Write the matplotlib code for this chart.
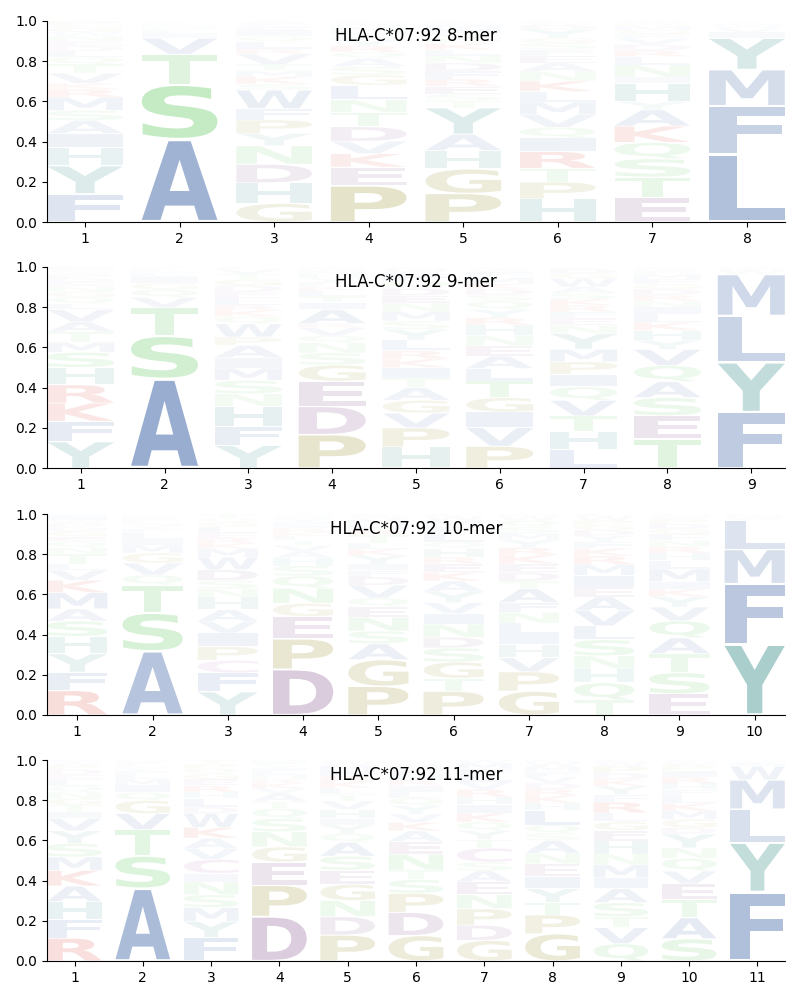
import matplotlib
matplotlib.use("Agg")
import matplotlib.pyplot as plt
from matplotlib.textpath import TextPath
from matplotlib.patches import PathPatch
from matplotlib.font_manager import FontProperties
from matplotlib.transforms import Affine2D

allele = "HLA-C*07:92"

# letters per position, listed bottom -> top, with their heights
letters_8 = ["FYHIASMRKVTQLDENWGCP", "ASTVILQMFY", "GHDNYPFWSKMTVRLQIECA",
             "PEKVDTNLGSAQRYFHMWIC", "PGHAYTSERFDNLKQVIMWC", "HPTRIQVMLKNAEFSGYDWC",
             "ETSQKAYHINLRDVFGMPWC", "LFMYIVWATS"]
heights_8 = [
    [.14, .14, .09, .07, .065, .05, .065, .04, .03, .05, .045, .035, .03, .025, .025, .025, .02, .02, .015, .02],
    [.41, .27, .15, .08, .02, .02, .015, .01, .01, .01],
    [.09, .10, .09, .09, .06, .065, .055, .09, .03, .035, .03, .03, .05, .025, .035, .025, .025, .02, .015, .015],
    [.175, .09, .065, .06, .07, .07, .06, .07, .05, .04, .04, .03, .03, .03, .02, .02, .02, .01, .01, .01],
    [.14, .12, .09, .08, .13, .035, .03, .04, .035, .04, .04, .035, .03, .03, .025, .025, .02, .02, .01, .01],
    [.11, .08, .065, .08, .065, .05, .06, .06, .05, .05, .045, .04, .035, .03, .03, .025, .04, .02, .01, .01],
    [.12, .1, .09, .08, .08, .08, .04, .09, .03, .06, .04, .03, .03, .03, .02, .02, .02, .01, .01, .005],
    [.335, .24, .18, .155, .03, .02, .015, .01, .005, .005],
]

letters_9 = ["YFKRHSMTAVLQGNEDPWCI", "ASTVQGILMFY", "YFHNSMIAPWQKRLEDGTVC",
             "PDEGSNQVRAITLKFYHMWC", "HPVGATIKRLYSMNEDQFWC", "PVIGTLAENHRYQSDKMFWC",
             "LHTVQIPMYNEFRKSAWGDC", "TESAQVYHKLINRDGFMPWC", "FYLMWIV"]
heights_9 = [
    [.13, .1, .09, .09, .085, .075, .05, .05, .05, .06, .03, .03, .03, .025, .02, .02, .02, .01, .01, .015],
    [.44, .21, .14, .05, .04, .03, .03, .02, .01, .01, .01],
    [.11, .09, .1, .06, .065, .06, .05, .06, .04, .065, .035, .03, .025, .035, .03, .03, .03, .025, .025, .01],
    [.165, .14, .125, .08, .06, .05, .035, .04, .02, .07, .035, .03, .03, .02, .02, .02, .02, .015, .01, .01],
    [.1, .09, .07, .06, .06, .045, .05, .04, .04, .05, .05, .04, .045, .04, .035, .035, .035, .035, .02, .01],
    [.105, .09, .075, .07, .08, .06, .06, .05, .05, .05, .035, .04, .04, .03, .03, .025, .03, .025, .015, .01],
    [.09, .085, .075, .075, .065, .06, .06, .06, .075, .04, .035, .03, .03, .03, .03, .03, .04, .025, .02, .01],
    [.145, .115, .09, .08, .08, .08, .045, .05, .04, .04, .035, .03, .03, .03, .025, .025, .025, .015, .01, .01],
    [.27, .24, .225, .2, .02, .01, .005],
]

letters_10 = ["RFYHSAMKVLTNQEGDPWIC", "ASTQVGMILFYNEDKRHP", "YFCPIVAHNSDWMKRELGQT",
              "DPEGNQSHAVTLKRIFYMWC", "PGASNEQVDFIYKLTRHMWC", "PTGSDNIVYAKERHQLFMWC",
              "GPVHILNFATDEKRYMSQWC", "TQHNSLVAEIMRKFYDGPWC", "ESTAQVYKIMLHRNFGDPWC",
              "YFMLWIV"]
heights_10 = [
    [.12, .09, .09, .085, .075, .06, .08, .06, .05, .03, .05, .03, .03, .025, .025, .02, .02, .015, .02, .01],
    [.32, .19, .14, .05, .06, .05, .04, .03, .03, .02, .015, .015, .01, .01, .01, .005, .005, .005],
    [.11, .09, .06, .065, .065, .055, .055, .06, .04, .04, .05, .06, .04, .025, .025, .025, .03, .02, .02, .02],
    [.225, .15, .11, .065, .075, .06, .05, .04, .03, .03, .025, .02, .02, .02, .015, .015, .015, .01, .01, .005],
    [.135, .125, .075, .06, .065, .05, .04, .06, .04, .03, .03, .04, .03, .03, .035, .025, .025, .025, .015, .01],
    [.11, .06, .075, .065, .05, .06, .05, .05, .05, .05, .04, .04, .03, .04, .03, .04, .03, .03, .02, .01],
    [.11, .09, .065, .06, .05, .05, .05, .045, .065, .035, .04, .04, .04, .035, .035, .03, .03, .03, .02, .01],
    [.07, .08, .065, .06, .075, .065, .07, .065, .045, .055, .05, .04, .035, .03, .03, .025, .025, .02, .02, .01],
    [.1, .1, .09, .075, .08, .065, .05, .035, .035, .06, .04, .035, .03, .03, .03, .025, .025, .02, .015, .01],
    [.34, .29, .165, .14, .015, .01, .005],
]

letters_11 = ["RFHAKMSYVITGNQLEDPWC", "ASTVGQIMLFYNEKD", "FYMSNICVAKWDLHREGQPT",
              "DPEGNSQTAVKRHLIYFM", "PDNGESAQYIHVTLKRFMWC", "GDPSTNEAKVYQLIRHFMWC",
              "GDPNEASCTYQKIHRVLFMW", "GPTYIENASQLHKRDVFMWC", "QVTSAIMNHEGLRFYKDPWC",
              "SATEVQNYDGMKLFHRIPWC", "FYLMWIVT"]
heights_11 = [
    [.11, .09, .085, .075, .075, .065, .065, .06, .06, .03, .035, .03, .03, .03, .03, .025, .025, .02, .015, .01],
    [.36, .16, .13, .08, .065, .04, .035, .03, .025, .015, .015, .01, .01, .01, .01],
    [.11, .075, .065, .06, .06, .04, .065, .05, .05, .05, .065, .03, .04, .03, .03, .03, .025, .025, .02, .02],
    [.22, .155, .115, .075, .075, .065, .05, .035, .04, .025, .025, .02, .02, .02, .015, .015, .015, .01],
    [.12, .085, .075, .075, .065, .065, .065, .04, .04, .03, .04, .04, .03, .03, .03, .025, .025, .025, .015, .01],
    [.12, .11, .09, .065, .045, .075, .06, .05, .04, .04, .04, .035, .03, .03, .025, .025, .025, .02, .015, .01],
    [.095, .07, .075, .065, .06, .05, .04, .065, .04, .04, .04, .04, .04, .035, .035, .035, .03, .03, .025, .015],
    [.13, .09, .06, .065, .06, .06, .05, .06, .035, .04, .07, .035, .035, .03, .03, .03, .025, .025, .02, .01],
    [.08, .075, .05, .065, .065, .05, .06, .05, .06, .05, .04, .04, .05, .035, .04, .03, .03, .03, .02, .01],
    [.105, .1, .085, .075, .06, .06, .05, .065, .03, .04, .04, .035, .035, .03, .03, .03, .03, .025, .015, .01],
    [.33, .235, .16, .14, .065, .015, .01, .005],
]

panels = [("8-mer", letters_8, heights_8), ("9-mer", letters_9, heights_9),
          ("10-mer", letters_10, heights_10), ("11-mer", letters_11, heights_11)]

# amino acid colour groups
blue = (140/255, 163/255, 202/255)
teal = (133/255, 186/255, 183/255)
green = (149/255, 218/255, 149/255)
purple = (177/255, 144/255, 182/255)
red = (230/255, 120/255, 110/255)
olive = (184/255, 178/255, 109/255)
pink = (200/255, 150/255, 200/255)
aa_colors = {}
for aa in "AVLIMFW":
    aa_colors[aa] = blue
for aa in "YH":
    aa_colors[aa] = teal
for aa in "STNQ":
    aa_colors[aa] = green
for aa in "DE":
    aa_colors[aa] = purple
for aa in "KR":
    aa_colors[aa] = red
for aa in "PG":
    aa_colors[aa] = olive
aa_colors["C"] = pink

font = FontProperties(family="DejaVu Sans", weight="bold")
glyphs = {}


def draw_letter(ax, ch, x, y, w, h, color, alpha):
    if ch not in glyphs:
        glyphs[ch] = TextPath((0, 0), ch, size=1, prop=font)
    path = glyphs[ch]
    ext = path.get_extents()
    pad = h * 0.025
    t = (Affine2D().translate(-ext.x0, -ext.y0)
         .scale(w / ext.width, (h - 2 * pad) / ext.height)
         .translate(x - w / 2, y + pad))
    ax.add_patch(PathPatch(t.transform_path(path), facecolor=color,
                           edgecolor="none", alpha=alpha, zorder=2))


fig = plt.figure(figsize=(8, 10), dpi=100)
bottoms = [0.778, 0.532, 0.285, 0.039]

for (name, letters, heights), b in zip(panels, bottoms):
    ax = fig.add_axes([0.059, b, 0.922, 0.201])
    n = len(letters)
    for i in range(n):
        total = sum(heights[i])
        y = 0.0
        for ch, h in zip(letters[i], heights[i]):
            h = h / total
            draw_letter(ax, ch, i + 1, y, 0.8, h, aa_colors[ch], min(1.0, 2 * h))
            y += h
    ax.set_xlim(0.6, n + 0.4)
    ax.set_ylim(0, 1)
    ax.set_xticks(range(1, n + 1))
    ax.set_yticks([0, 0.2, 0.4, 0.6, 0.8, 1.0])
    ax.spines["top"].set_visible(False)
    ax.spines["right"].set_visible(False)
    ax.text(0.5, 0.925, f"{allele} {name}", transform=ax.transAxes,
            ha="center", va="center", fontsize=12, zorder=5)

fig.savefig("out.png", dpi=100)
